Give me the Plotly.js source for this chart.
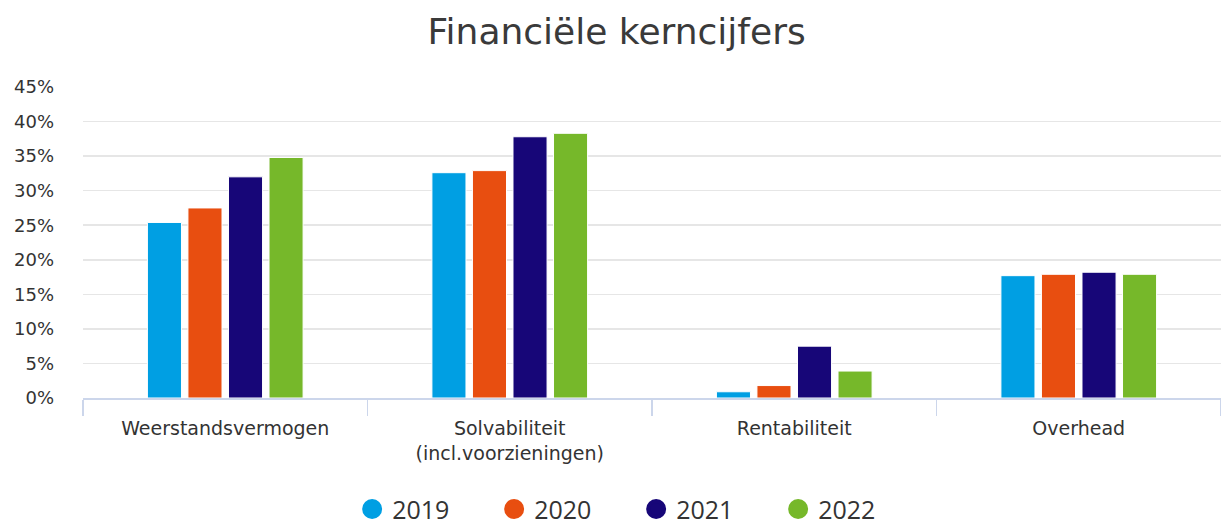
<!DOCTYPE html>
<html>
<head>
<meta charset="utf-8">
<script src="https://cdn.plot.ly/plotly-3.0.1.min.js"></script>
<style>html,body{margin:0;padding:0;background:#fff;} #chart{width:1221px;height:525px;}</style>
</head>
<body>
<div id="chart"></div>
<script>
const categories = ["Weerstandsvermogen", "Solvabiliteit<br>(incl.voorzieningen)", "Rentabiliteit", "Overhead"];
const years = ["2019", "2020", "2021", "2022"];
const v2019 = [25.4, 32.6, 0.9, 17.7];
const v2020 = [27.5, 32.9, 1.8, 17.9];
const v2021 = [32.0, 37.8, 7.5, 18.2];
const v2022 = [34.8, 38.3, 3.9, 17.9];
const yTicks = [0, 5, 10, 15, 20, 25, 30, 35, 40, 45];

const colors = ["#009fe3", "#e84e10", "#170678", "#76b82a"];
const series = [v2019, v2020, v2021, v2022];

const traces = [];
series.forEach((vals, i) => {
  traces.push({
    type: "bar", x: categories, y: vals, name: years[i],
    marker: {color: colors[i], line: {color: "#ffffff", width: 1}},
    showlegend: false, hoverinfo: "y"
  });
});
series.forEach((vals, i) => {
  traces.push({
    type: "scatter", mode: "markers", x: [null], y: [null], name: years[i],
    marker: {color: colors[i], size: 16, symbol: "circle", line: {color: colors[i], width: 4}},
    showlegend: true
  });
});

const layout = {
  width: 1221, height: 525,
  margin: {l: 83, r: 0, t: 87, b: 127},
  paper_bgcolor: "#ffffff", plot_bgcolor: "#ffffff",
  font: {family: "DejaVu Sans, Verdana, sans-serif", color: "#333333", size: 18},
  title: {text: "Financiële kerncijfers", x: 0.505, xref: "container", y: 0.94, yref: "container", yanchor: "middle",
          font: {family: "DejaVu Sans, Verdana, sans-serif", size: 36, color: "#3a3a3a"}},
  barmode: "group", bargap: 0.43, bargroupgap: 0.16,
  xaxis: {
    type: "category", tickson: "boundaries", ticks: "outside", ticklen: 16, tickwidth: 1.5, tickcolor: "#ccd6eb",
    showline: true, linecolor: "#ccd6eb", linewidth: 2, showgrid: false,
    tickfont: {size: 19, color: "#333333", family: "DejaVu Sans, Verdana, sans-serif"},
    ticklabelstandoff: 12, fixedrange: true
  },
  yaxis: {
    range: [0, 45], tickvals: yTicks, ticktext: yTicks.map(v => v + "%"),
    showgrid: true, gridcolor: "#e6e6e6", gridwidth: 1.5, zeroline: false, showline: false,
    ticks: "", ticklabelstandoff: 28,
    tickfont: {size: 18, color: "#333333", family: "DejaVu Sans, Verdana, sans-serif"}, fixedrange: true
  },
  legend: {
    orientation: "h", x: 0.521, xref: "container", xanchor: "center",
    y: 0.03, yref: "container", yanchor: "middle",
    font: {family: "Open Sans, sans-serif", size: 25, color: "#333333"},
    itemsizing: "trace", entrywidth: 97, traceorder: "normal"
  },
  showlegend: true
};

Plotly.newPlot("chart", traces, layout, {displayModeBar: false, staticPlot: true});
</script>
</body>
</html>
